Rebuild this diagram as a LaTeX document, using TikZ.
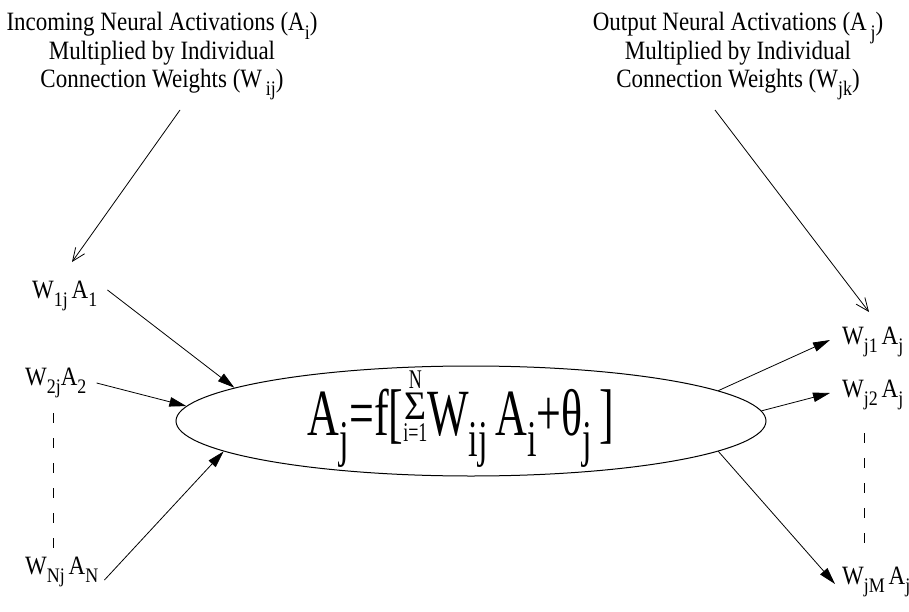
\documentclass[tikz,border=0pt]{standalone}
\usepackage{fontspec}
\setmainfont{Liberation Serif}
\usetikzlibrary{shapes.geometric,arrows.meta,calc}
% lowered, reduced index after a letter
\newcommand\lo[1]{\raisebox{-0.32em}{\scalebox{0.78}{#1}}}
% same, taking no vertical room (keeps caption lines evenly spaced)
\newcommand\clo[1]{\smash{\lo{#1}}}
% summation sign with its limits stacked above and below
\newcommand\sumstack{\raisebox{-4.5pt}{\fontsize{18}{18}\selectfont\shortstack{N\\{\fontsize{27}{27}\selectfont\scalebox{1.4}[1]{Σ}}\\i=1}}}
% slightly tall lettering for captions and labels
\newcommand\tall[1]{\scalebox{1}[1.15]{#1}}
\newcommand\threelines[3]{\tall{\begin{tabular}{@{}c@{}}#1\\#2\\#3\end{tabular}}}
\begin{document}
\begin{tikzpicture}[x=1pt,y=-1pt,
  txt/.style={font=\fontsize{23}{24.5}\selectfont, inner sep=0pt},
  lab/.style={font=\fontsize{23}{28}\selectfont, inner sep=0pt, anchor=west},
  link/.style={line width=0.8pt, -{Triangle[length=17pt,width=9.5pt]}},
  pointer/.style={line width=0.8pt, -{Straight Barb[length=13pt,width=11pt]}},
  dots/.style={line width=1pt, dash pattern=on 10pt off 15pt}]
\useasboundingbox (0,0) rectangle (909,612);

% captions
\node[txt, anchor=north] (intxt) at (162,11)
  {\threelines{Incoming Neural Activations (A\clo{i})}{Multiplied by Individual}{Connection Weights (W\,\clo{ij})}};
\node[txt, anchor=north] (outtxt) at (738,11)
  {\threelines{Output Neural Activations (A\,\clo{j})}{Multiplied by Individual}{Connection Weights (W\clo{jk})}};

% the neuron
\node[ellipse, draw, line width=1pt, minimum width=590pt, minimum height=110pt, inner sep=0pt] (cell) at (471,421) {};
\node[inner sep=0pt] (rule) at (461,419)
  {\scalebox{1}[1.5]{\fontsize{44}{44}\selectfont A\lo{j}=f[\sumstack W\lo{ij}\,A\lo{i}+θ\lo{j}\,]}};

% weighted inputs
\node[lab] (w1) at (32,296) {\tall{W\lo{1j}\,A\lo{1}}};
\node[lab] (w2) at (25,383) {\tall{W\lo{2j}A\lo{2}}};
\node[lab] (wn) at (25,572) {\tall{W\lo{Nj}\,A\lo{N}}};

% weighted outputs
\node[lab] (o1) at (842,342) {\tall{W\lo{j1}\,A\lo{j}}};
\node[lab] (o2) at (842,395) {\tall{W\lo{j2}\,A\lo{j}}};
\node[lab] (om) at (842,582) {\tall{W\lo{jM}\,A\lo{j}}};

% input connections
\draw[link] ([xshift=10pt,yshift=6pt]w1.east) -- (cell.172.6);
\draw[link] ([xshift=10pt]w2.east) -- (cell.177.5);
\draw[link] ([xshift=6pt,yshift=-8pt]wn.east) -- (cell.187.6);

% output connections
\draw[link] (cell.7.6) -- ([xshift=-12pt,yshift=2pt]o1.west);
\draw[link] (cell.2.4) -- ([xshift=-12pt,yshift=2pt]o2.west);
\draw[link] (cell.-7.6) -- ([xshift=-7pt,yshift=-2pt]om.west);

% elided connections
\coordinate (lgapT) at (53,413);
\coordinate (lgapB) at (53,548);
\coordinate (rgapT) at (864,433);
\coordinate (rgapB) at (864,550);
\draw[dots] (lgapT) -- (lgapB);
\draw[dots] (rgapT) -- (rgapB);

% caption pointers
\coordinate (inptr) at (180,110);
\coordinate (inend) at (72,262);
\coordinate (outptr) at (715,110);
\coordinate (outend) at (869,312);
\draw[pointer] (inptr) -- (inend);
\draw[pointer] (outptr) -- (outend);
\end{tikzpicture}
\end{document}
